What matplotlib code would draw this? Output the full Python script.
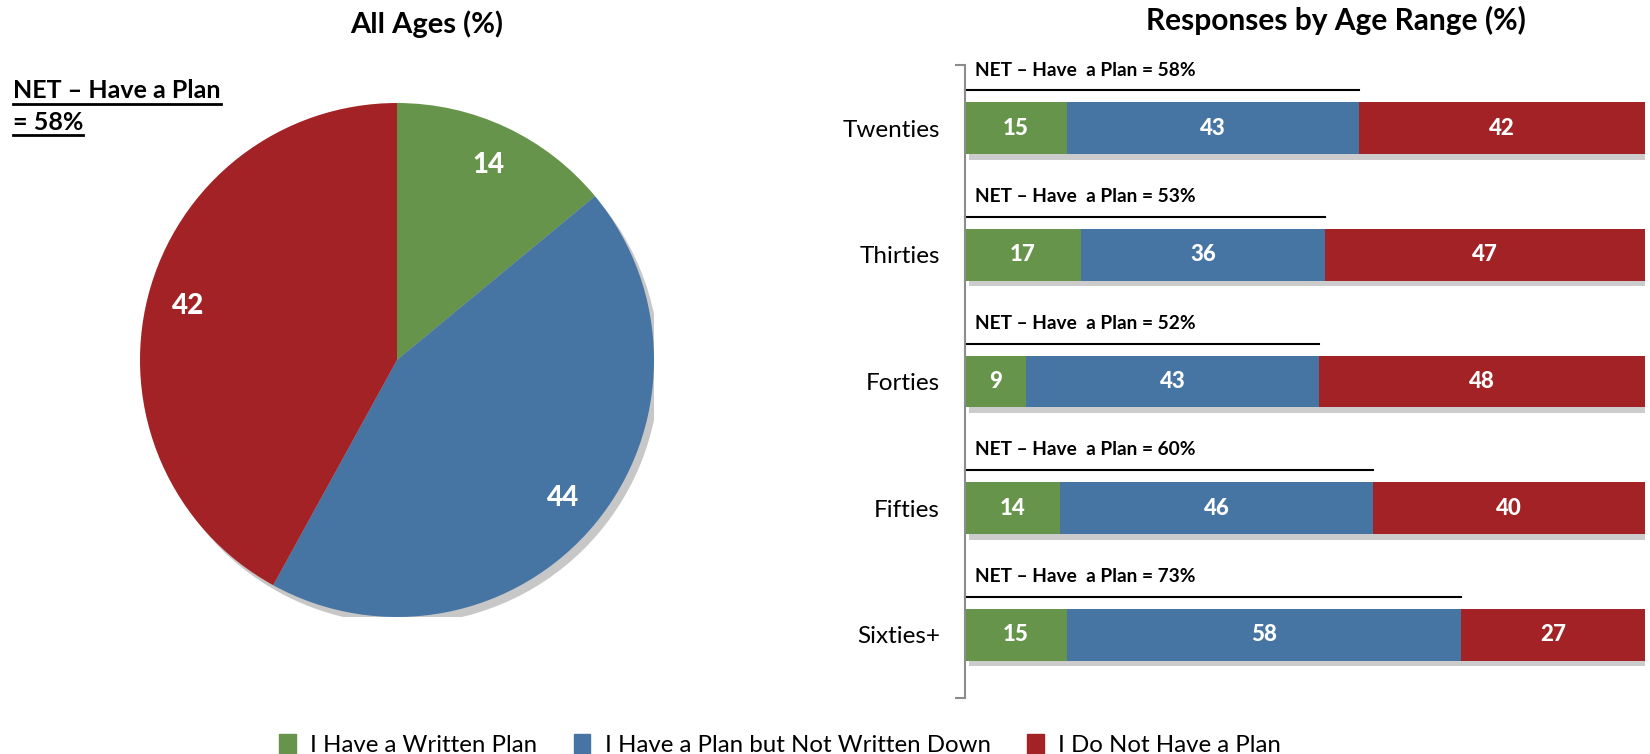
import matplotlib.pyplot as plt
import matplotlib.patheffects as pe
from matplotlib.lines import Line2D
from matplotlib.patches import Circle
import numpy as np

plt.rcParams['font.family'] = ['Lato', 'DejaVu Sans']

# data
series = ['I Have a Written Plan', 'I Have a Plan but Not Written Down', 'I Do Not Have a Plan']
colors = ['#66944A', '#4675A4', '#A32225']
pie_values = [14, 44, 42]
pie_net = 58

ages = ['Twenties', 'Thirties', 'Forties', 'Fifties', 'Sixties+']
written = [15, 17, 9, 14, 15]
not_written = [43, 36, 43, 46, 58]
no_plan = [42, 47, 48, 40, 27]
net_plan = [58, 53, 52, 60, 73]

W, H = 1650, 754
fig = plt.figure(figsize=(W / 100, H / 100), dpi=100)

# pie
cx, cy, r = 397, 360, 257
ax1 = fig.add_axes([(cx - r) / W, (H - cy - r) / H, 2 * r / W, 2 * r / H])
shadow = Circle((0, 0), 1, color='white', zorder=0)
shadow.set_path_effects([pe.SimplePatchShadow(offset=(4, -5), shadow_rgbFace='black', alpha=0.22)])
ax1.add_patch(shadow)
wedges, _ = ax1.pie(pie_values, colors=colors, startangle=90, counterclock=False,
                    radius=1, wedgeprops=dict(linewidth=0))
ang0 = 90
for v, w in zip(pie_values, wedges):
    mid = np.deg2rad(ang0 - v * 3.6 / 2)
    ax1.text(0.84 * np.cos(mid), 0.84 * np.sin(mid), str(v), color='white',
             fontsize=20, fontweight='black', ha='center', va='center')
    ang0 -= v * 3.6
ax1.set_xlim(-1, 1)
ax1.set_ylim(-1, 1)
ax1.axis('off')

fig.text(427 / W, 1 - 24 / H, 'All Ages (%)', fontsize=21, fontweight='bold', ha='center', va='center')

# left NET annotation with underline
t1 = fig.text(13 / W, 1 - 91 / H, 'NET – Have a Plan', fontsize=18, fontweight='bold', ha='left', va='center')
t2 = fig.text(13 / W, 1 - 122 / H, '= 58%', fontsize=18, fontweight='bold', ha='left', va='center')
fig.canvas.draw()
rend = fig.canvas.get_renderer()
for t in (t1, t2):
    bb = t.get_window_extent(rend)
    y = (bb.y0 - 1) / H
    fig.add_artist(Line2D([bb.x0 / W, bb.x1 / W], [y, y], color='black', lw=2))

# stacked bars
x0, x1 = 965, 1645
ytop, ybot = 65, 698
ax2 = fig.add_axes([x0 / W, (H - ybot) / H, (x1 - x0) / W, (ybot - ytop) / H])
ypos = np.arange(len(ages))
left = np.zeros(len(ages))
for vals, c in zip([written, not_written, no_plan], colors):
    bars = ax2.barh(ypos, vals, left=left, height=0.41, color=c, linewidth=0)
    for b in bars:
        b.set_path_effects([pe.SimplePatchShadow(offset=(3, -4), shadow_rgbFace='black', alpha=0.2), pe.Normal()])
    for y, v, l in zip(ypos, vals, left):
        ax2.text(l + v / 2, y, str(v), color='white', fontsize=16, fontweight='black',
                 ha='center', va='center')
    left = left + np.array(vals)

for y, n in zip(ypos, net_plan):
    ax2.plot([0, n], [y - 0.30, y - 0.30], color='black', lw=1.5, clip_on=False)
    ax2.text(1.5, y - 0.46, f'NET – Have  a Plan = {n}%', fontsize=13.8, fontweight='bold',
             ha='left', va='center')

ax2.set_xlim(0, 100)
ax2.set_ylim(4.5, -0.5)
for s in ['top', 'right', 'bottom']:
    ax2.spines[s].set_visible(False)
ax2.spines['left'].set_color('#8c8c8c')
ax2.spines['left'].set_linewidth(1.5)
ax2.set_xticks([])
ax2.set_yticks(ypos)
ax2.set_yticklabels(ages, fontsize=17.5)
ax2.tick_params(axis='y', length=0, pad=18)
ax2.set_yticks([-0.5, 4.5], minor=True)
ax2.tick_params(axis='y', which='minor', length=7, color='#8c8c8c', width=1.5)

fig.text(1336 / W, 1 - 20 / H, 'Responses by Age Range (%)', fontsize=21.5, fontweight='bold',
         ha='center', va='center')

# legend
handles = [plt.Rectangle((0, 0), 1, 1, color=c) for c in colors]
fig.legend(handles, series, loc='center', bbox_to_anchor=(780 / W, 1 - 745 / H), ncol=3,
           frameon=False, fontsize=17.3, handlelength=0.7, handleheight=0.9,
           columnspacing=1.5, handletextpad=0.6)

fig.savefig('out.png', dpi=100)
